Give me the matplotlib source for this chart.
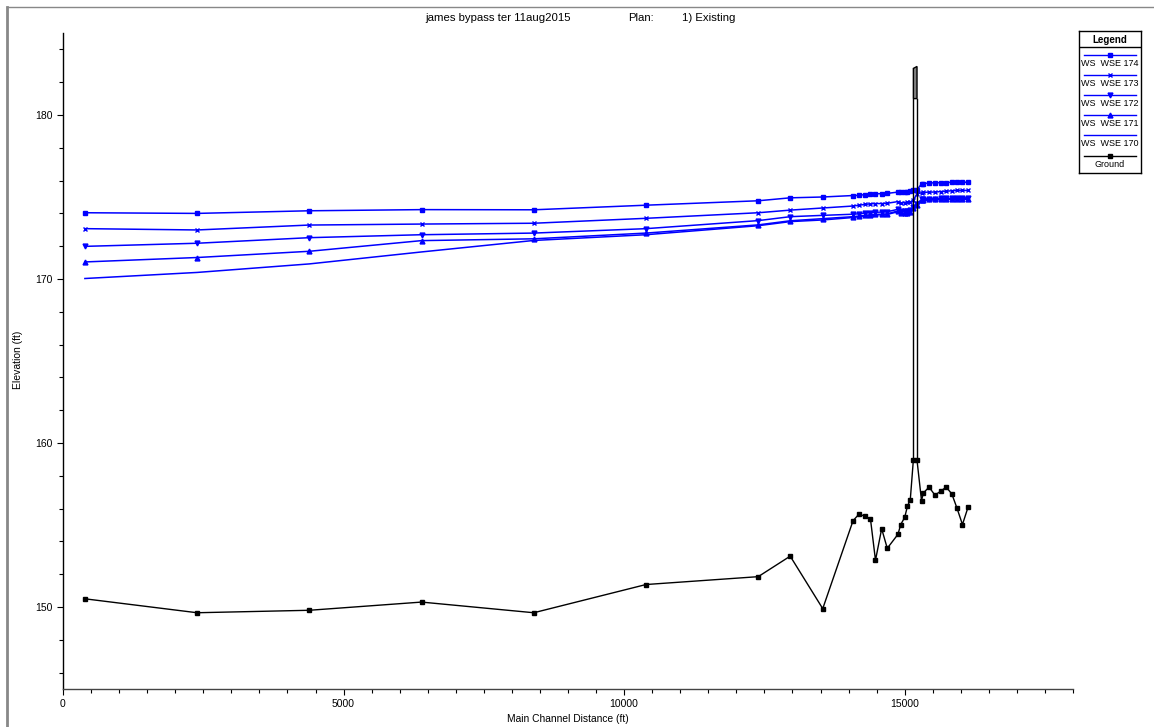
import numpy as np
import matplotlib.pyplot as plt
import matplotlib.ticker as mticker
from matplotlib.lines import Line2D

plt.rcParams['font.family'] = ['Liberation Sans', 'DejaVu Sans']

# main channel distance of each cross section (ft)
stations = [390, 2390, 4390, 6390, 8390, 10390, 12390, 12960, 13540, 14080,
            14190, 14290, 14390, 14480, 14590, 14690, 14880, 14930, 15000, 15050,
            15100, 15155, 15220, 15300, 15335, 15435, 15540, 15640, 15740, 15840,
            15930, 16030, 16130]

ground = [150.5, 149.65, 149.8, 150.3, 149.65, 151.37, 151.85, 153.1, 149.9, 155.26,
          155.68, 155.52, 155.38, 152.85, 154.77, 153.58, 154.43, 155.03, 155.46, 156.15,
          156.54, 158.97, 158.95, 156.49, 156.96, 157.31, 156.82, 157.06, 157.31, 156.9,
          156.05, 155.03, 156.09]

wse174 = [174.04, 174.0, 174.16, 174.23, 174.22, 174.5, 174.77, 174.95, 175.0, 175.09,
          175.1, 175.15, 175.18, 175.2, 175.2, 175.22, 175.3, 175.28, 175.3, 175.32,
          175.35, 175.4, 175.45, 175.79, 175.82, 175.85, 175.87, 175.87, 175.88, 175.9,
          175.9, 175.9, 175.9]
wse173 = [173.07, 172.99, 173.29, 173.35, 173.4, 173.7, 174.04, 174.2, 174.33, 174.45,
          174.5, 174.55, 174.58, 174.6, 174.6, 174.62, 174.72, 174.65, 174.65, 174.68,
          174.7, 174.8, 175.2, 175.25, 175.28, 175.3, 175.3, 175.33, 175.35, 175.38,
          175.4, 175.4, 175.4]
wse172 = [171.99, 172.18, 172.52, 172.70, 172.8, 173.07, 173.56, 173.8, 173.88, 173.95,
          173.98, 174.02, 174.05, 174.07, 174.08, 174.1, 174.25, 174.15, 174.12, 174.15,
          174.2, 174.4, 174.6, 174.85, 174.88, 174.9, 174.9, 174.92, 174.92, 174.93,
          174.95, 174.95, 174.95]
wse171 = [171.04, 171.31, 171.69, 172.34, 172.45, 172.8, 173.3, 173.55, 173.68, 173.8,
          173.84, 173.88, 173.92, 173.94, 173.95, 173.97, 174.15, 174.05, 174.02, 174.05,
          174.1, 174.3, 174.5, 174.79, 174.82, 174.85, 174.86, 174.87, 174.88, 174.9,
          174.9, 174.9, 174.9]
wse170 = [170.03, 170.4, 170.92, 171.65, 172.35, 172.7, 173.25, 173.5, 173.6, 173.75,
          173.8, 173.85, 173.88, 173.9, 173.92, 173.94, 174.1, 174.0, 173.98, 174.0,
          174.05, 174.25, 174.45, 174.75, 174.78, 174.8, 174.82, 174.83, 174.84, 174.85,
          174.85, 174.85, 174.85]

# bridge
bridge_x = [15155, 15220]
bridge_low_chord = 181.0
bridge_high_chord = [182.84, 182.96]

ws_labels = ['WS  WSE 174', 'WS  WSE 173', 'WS  WSE 172', 'WS  WSE 171', 'WS  WSE 170']
ws_markers = ['s', 'x', 'v', '^', None]

if __name__ == '__main__':
    W, H = 1154, 727
    fig = plt.figure(figsize=(W / 100, H / 100), dpi=100)
    ax = fig.add_axes([63 / W, 1 - 689 / H, 1010 / W, 656 / H])

    blue = '#0000ff'
    for ws, mk in zip([wse174, wse173, wse172, wse171, wse170], ws_markers):
        ax.plot(stations, ws, color=blue, lw=1.1, marker=mk, ms=3.5, mew=1.0)

    ax.plot(stations, ground, color='black', lw=1.0, marker='s', ms=3.5)

    # bridge outline
    for bx in bridge_x:
        ax.plot([bx, bx], [ground[stations.index(bx)], bridge_low_chord],
                color='black', lw=1.0)
    ax.fill([bridge_x[0], bridge_x[1], bridge_x[1], bridge_x[0]],
            [bridge_low_chord, bridge_low_chord, bridge_high_chord[1], bridge_high_chord[0]],
            facecolor='#808080', edgecolor='black', lw=1.0)

    ax.set_xlim(0, 18000)
    ax.set_ylim(145, 185)
    ax.xaxis.set_major_locator(mticker.MultipleLocator(5000))
    ax.xaxis.set_minor_locator(mticker.MultipleLocator(500))
    ax.yaxis.set_major_locator(mticker.MultipleLocator(10))
    ax.yaxis.set_minor_locator(mticker.MultipleLocator(2))
    ax.tick_params(which='both', direction='out', labelsize=7.5, width=0.8)
    ax.tick_params(which='major', length=4)
    ax.tick_params(which='minor', length=3)
    ax.spines['top'].set_visible(False)
    ax.spines['right'].set_visible(False)
    ax.spines['left'].set_linewidth(1.0)
    ax.spines['bottom'].set_linewidth(1.0)
    ax.spines['bottom'].set_color('#444444')

    # title pieces
    fig.text(425 / W, 1 - 18 / H, 'james bypass ter 11aug2015', ha='left', va='center', fontsize=8.2)
    fig.text(628 / W, 1 - 18 / H, 'Plan:', ha='left', va='center', fontsize=8.2)
    fig.text(682 / W, 1 - 18 / H, '1) Existing', ha='left', va='center', fontsize=8.2)

    fig.text(568 / W, 1 - 719 / H, 'Main Channel Distance (ft)', ha='center', va='center',
             fontsize=7.4)
    fig.text(18 / W, 1 - 360 / H, 'Elevation (ft)', ha='center', va='center',
             rotation=90, fontsize=7.5)

    # window frame
    fig.add_artist(Line2D([7 / W, 7 / W], [0, 1 - 7 / H], color='#888888', lw=2))
    fig.add_artist(Line2D([7 / W, 1], [1 - 7 / H, 1 - 7 / H], color='#888888', lw=1))

    # legend panel
    lx0, lx1, ly0, ly1 = 1079, 1141, 31, 173
    lax = fig.add_axes([lx0 / W, 1 - ly1 / H, (lx1 - lx0) / W, (ly1 - ly0) / H])
    lax.set_xlim(0, 1)
    lax.set_ylim(ly1, ly0)
    lax.set_xticks([])
    lax.set_yticks([])
    for sp in lax.spines.values():
        sp.set_linewidth(1.0)
    lax.text(0.5, 40, 'Legend', ha='center', va='center', fontsize=7, fontweight='bold')
    lax.plot([0, 1], [47, 47], color='black', lw=1.0)
    entry_y = [55, 75, 95, 115, 135, 156]
    labels = ws_labels + ['Ground']
    markers = ws_markers + ['s']
    colors = [blue] * 5 + ['black']
    for y, lab, mk, c in zip(entry_y, labels, markers, colors):
        lax.plot([0.08, 0.92], [y, y], color=c, lw=1.0)
        if mk:
            lax.plot([0.5], [y], color=c, marker=mk, ms=3.5, mew=1.0)
        lax.text(0.5, y + 8.5, lab, ha='center', va='center', fontsize=6.5)

    fig.savefig('out.png', dpi=100)
